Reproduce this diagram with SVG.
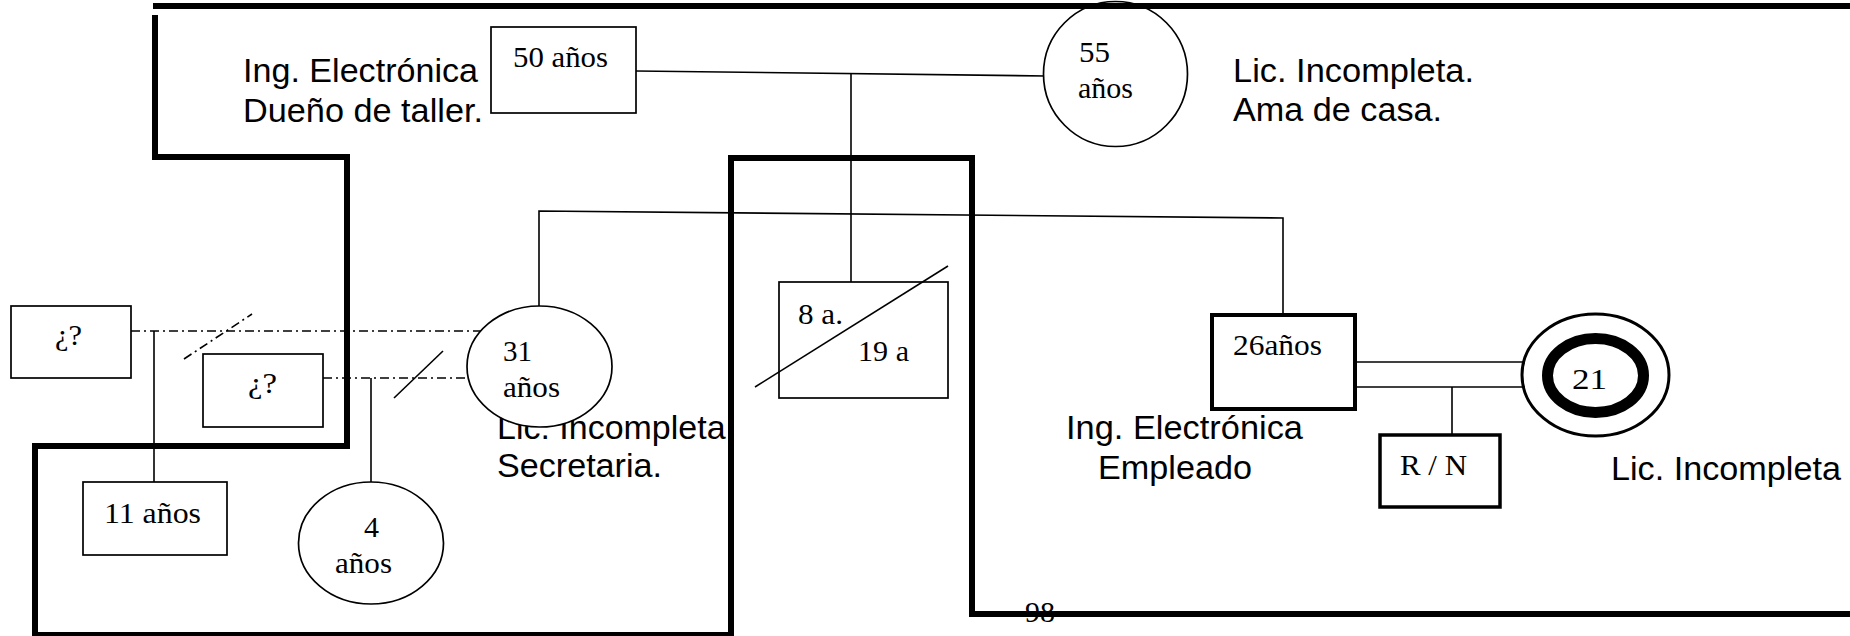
<svg xmlns="http://www.w3.org/2000/svg" width="1850" height="636" viewBox="0 0 1850 636">
<style>
.bg{fill:#fff}
.sans{font-family:"Liberation Sans",Arial,sans-serif;font-size:33px;fill:#000}
.serif{font-family:"Liberation Serif","Times New Roman",serif;font-size:30px;fill:#000}
.node{fill:#fff;stroke:#000;stroke-width:1.7}
.thin{fill:none;stroke:#000;stroke-width:1.6}
.dd{fill:none;stroke:#000;stroke-width:1.6;stroke-dasharray:9 4 2 4}
.bound{fill:none;stroke:#000;stroke-width:6;stroke-linejoin:miter;stroke-linecap:butt}
</style>
<rect class="bg" x="0" y="0" width="1850" height="636"/>

<g id="labels">
<text class="sans" x="243" y="82" textLength="235" lengthAdjust="spacingAndGlyphs">Ing. Electrónica</text>
<text class="sans" x="243" y="122" textLength="240" lengthAdjust="spacingAndGlyphs">Dueño de taller.</text>
<text class="sans" x="1233" y="82" textLength="241" lengthAdjust="spacingAndGlyphs">Lic. Incompleta.</text>
<text class="sans" x="1233" y="121" textLength="209" lengthAdjust="spacingAndGlyphs">Ama de casa.</text>
<text class="sans" x="497" y="439" textLength="238" lengthAdjust="spacingAndGlyphs">Lic. Incompleta.</text>
<text class="sans" x="497" y="477" textLength="165" lengthAdjust="spacingAndGlyphs">Secretaria.</text>
<text class="sans" x="1066" y="439" textLength="237" lengthAdjust="spacingAndGlyphs">Ing. Electrónica</text>
<text class="sans" x="1098" y="479" textLength="154" lengthAdjust="spacingAndGlyphs">Empleado</text>
<text class="sans" x="1611" y="480" textLength="230" lengthAdjust="spacingAndGlyphs">Lic. Incompleta</text>
<text class="serif" x="1025" y="622" textLength="30" lengthAdjust="spacingAndGlyphs">98</text>
</g>

<g id="connectors">
<line class="thin" x1="636" y1="71" x2="1046" y2="76"/>
<line class="thin" x1="851" y1="73" x2="851" y2="282"/>
<polyline class="thin" points="539,306 539,211 1283,218 1283,315"/>
<line class="dd" x1="131" y1="331" x2="500" y2="331"/>
<line class="dd" x1="323" y1="378" x2="500" y2="378"/>
<line class="thin" x1="154" y1="331" x2="154" y2="482"/>
<line class="thin" x1="371" y1="378" x2="371" y2="482"/>
<line class="dd" x1="184" y1="359" x2="252" y2="314"/>
<line class="thin" x1="394" y1="398" x2="443" y2="351"/>
<line class="thin" x1="1355" y1="362" x2="1530" y2="362"/>
<line class="thin" x1="1355" y1="387" x2="1530" y2="387"/>
<line class="thin" x1="1452" y1="387" x2="1452" y2="435"/>
</g>

<g id="father">
<rect class="node" x="491" y="27" width="145" height="86"/>
<text class="serif" x="513" y="67" textLength="95" lengthAdjust="spacingAndGlyphs">50 años</text>
</g>
<g id="mother">
<ellipse class="node" cx="1115.5" cy="74" rx="72" ry="72.5"/>
<text class="serif" x="1079" y="62" textLength="31" lengthAdjust="spacingAndGlyphs">55</text>
<text class="serif" x="1078" y="98" textLength="55" lengthAdjust="spacingAndGlyphs">años</text>
</g>
<g id="partner1">
<rect class="node" x="11" y="306" width="120" height="72"/>
<text class="serif" x="55" y="345" textLength="27" lengthAdjust="spacingAndGlyphs">¿?</text>
</g>
<g id="partner2">
<rect class="node" x="203" y="354" width="120" height="73"/>
<text class="serif" x="248" y="393" textLength="29" lengthAdjust="spacingAndGlyphs">¿?</text>
</g>
<g id="daughter31">
<ellipse class="node" cx="539.5" cy="366.5" rx="72.5" ry="60.5"/>
<text class="serif" x="503" y="361" textLength="29" lengthAdjust="spacingAndGlyphs">31</text>
<text class="serif" x="503" y="397" textLength="57" lengthAdjust="spacingAndGlyphs">años</text>
</g>
<g id="child11">
<rect class="node" x="83" y="482" width="144" height="73"/>
<text class="serif" x="104" y="523" textLength="97" lengthAdjust="spacingAndGlyphs">11 años</text>
</g>
<g id="child4">
<ellipse class="node" cx="371" cy="543" rx="72.5" ry="61"/>
<text class="serif" x="364" y="537">4</text>
<text class="serif" x="335" y="573" textLength="57" lengthAdjust="spacingAndGlyphs">años</text>
</g>
<g id="son8">
<rect class="node" x="779" y="282" width="169" height="116"/>
<line class="thin" x1="755" y1="387" x2="948" y2="266"/>
<text class="serif" x="798" y="324" textLength="45" lengthAdjust="spacingAndGlyphs">8 a.</text>
<text class="serif" x="858" y="361" textLength="51" lengthAdjust="spacingAndGlyphs">19 a</text>
</g>
<g id="son26">
<rect x="1212" y="315" width="143" height="94" fill="#fff" stroke="#000" stroke-width="4"/>
<text class="serif" x="1233" y="355" textLength="89" lengthAdjust="spacingAndGlyphs">26años</text>
</g>
<g id="partner21">
<ellipse cx="1595.5" cy="375" rx="73.5" ry="61" fill="#fff" stroke="#000" stroke-width="3"/>
<ellipse cx="1595.5" cy="375.5" rx="48" ry="37" fill="#fff" stroke="#000" stroke-width="11"/>
<text class="serif" x="1572" y="389" textLength="35" lengthAdjust="spacingAndGlyphs">21</text>
</g>
<g id="childRN">
<rect x="1380" y="435" width="120" height="72" fill="#fff" stroke="#000" stroke-width="3.5"/>
<text class="serif" x="1400" y="475" textLength="67" lengthAdjust="spacingAndGlyphs">R / N</text>
</g>

<g id="boundaries">
<line class="bound" x1="153" y1="6" x2="1850" y2="6"/>
<polyline class="bound" points="155,15 155,157 347,157 347,446 35,446 35,635 731,635 731,158 972,158 972,614 1850,614"/>
</g>
</svg>
